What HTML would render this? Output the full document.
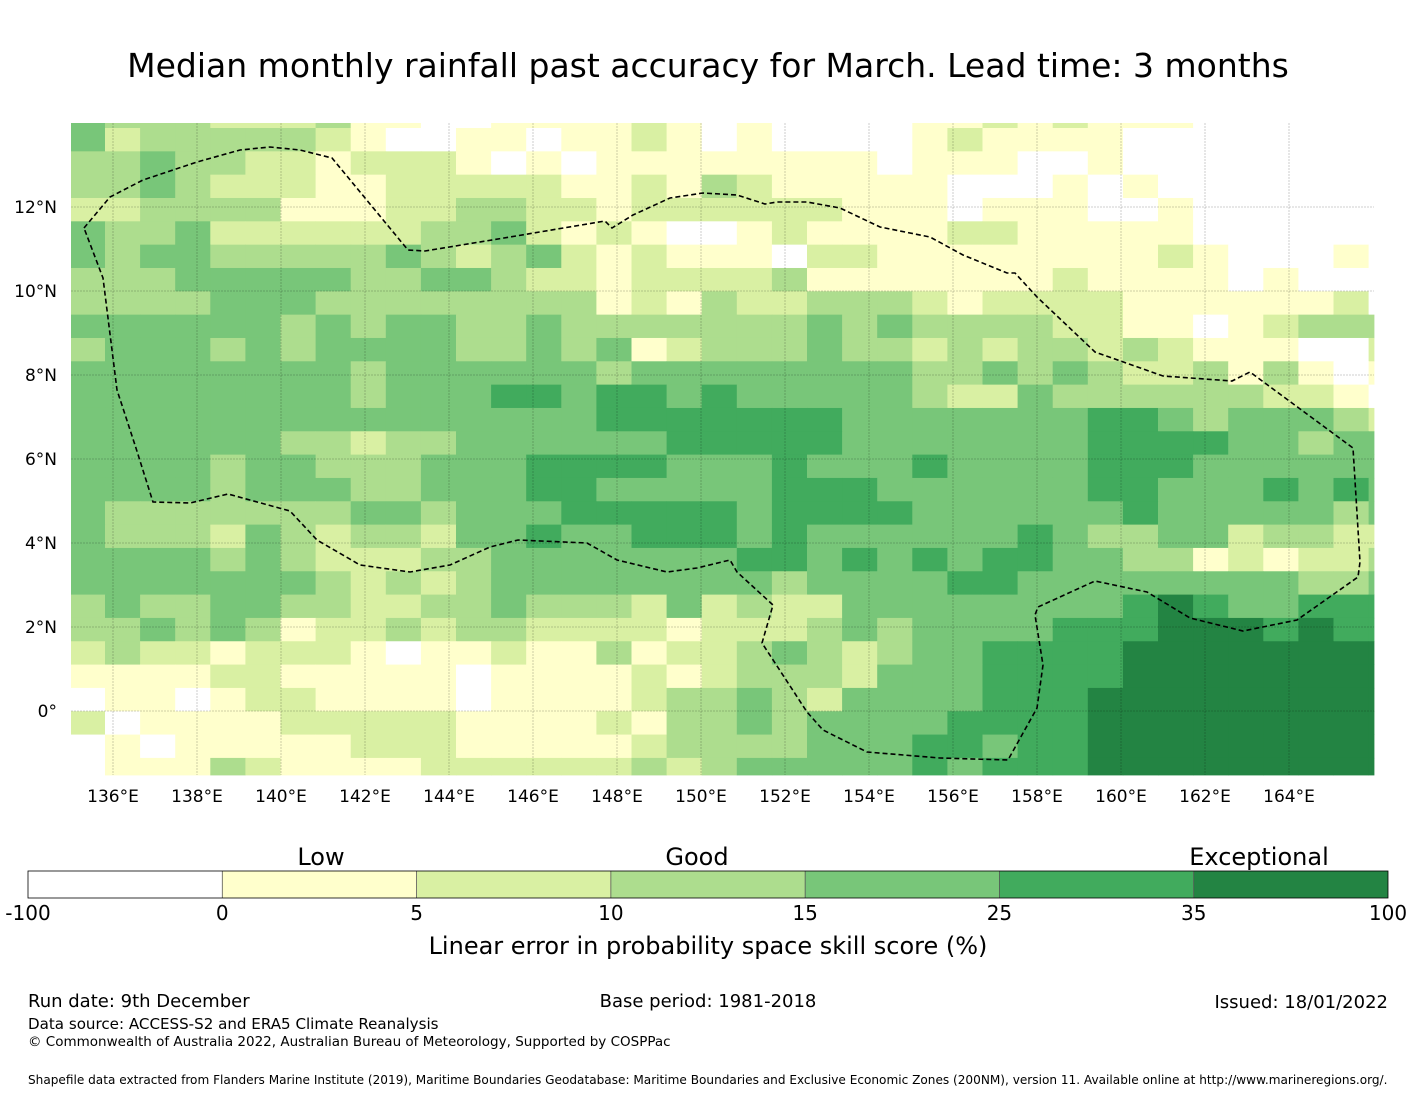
<!DOCTYPE html>
<html><head><meta charset="utf-8"><style>
html,body{margin:0;padding:0;background:#fff;}
svg{display:block;font-family:"DejaVu Sans","Liberation Sans",sans-serif;}
</style></head><body>
<svg id="chart" width="1416" height="1095" viewBox="0 0 1416 1095" xmlns="http://www.w3.org/2000/svg">
<rect width="1416" height="1095" fill="#fff"/>
<text x="708" y="77" font-size="33" text-anchor="middle" fill="#000">Median monthly rainfall past accuracy for March. Lead time: 3 months</text>
<g id="cells"></g>
<g id="grid"></g>
<path id="eez" fill="none" stroke="#000" stroke-width="1.6" stroke-dasharray="5,3"/>
<g id="xticks"></g>
<g id="yticks"></g>
<g id="cbar"></g>
<text x="321" y="865" font-size="24" text-anchor="middle">Low</text>
<text x="697" y="865" font-size="24" text-anchor="middle">Good</text>
<text x="1259" y="865" font-size="24" text-anchor="middle">Exceptional</text>
<text x="708" y="954" font-size="24" text-anchor="middle">Linear error in probability space skill score (%)</text>
<text x="28" y="1007" font-size="18">Run date: 9th December</text>
<text x="708" y="1007" font-size="18" text-anchor="middle">Base period: 1981-2018</text>
<text x="1388" y="1008" font-size="18" text-anchor="end">Issued: 18/01/2022</text>
<text x="28" y="1029" font-size="15.1">Data source: ACCESS-S2 and ERA5 Climate Reanalysis</text>
<text x="28" y="1046" font-size="13.5">© Commonwealth of Australia 2022, Australian Bureau of Meteorology, Supported by COSPPac</text>
<text x="28" y="1084" font-size="12.1">Shapefile data extracted from Flanders Marine Institute (2019), Maritime Boundaries Geodatabase: Maritime Boundaries and Exclusive Economic Zones (200NM), version 11. Available online at http://www.marineregions.org/.</text>
</svg>
<script>
// skill-score bin index per cell (0..6), rows north->south, columns west->east
const skillRows = [
"43332223110011112101000011212111000000",
"42333332100110112101000012111100000000",
"33433221222101011111111011100100000000",
"33432221122222112132111110001010000000",
"22333311122332212222221110111001000000",
"43342222223342121001211112211111000000",
"43443333343234212111022111111112100010",
"33344444334432212222311111112111101000",
"33334443333333312132233321222211111120",
"44444434344334333333343433332211012333",
"34443434444334341233343323233232111002",
"44444444344444434444444433434322313101",
"44444444344455455454444432243333332210",
"44444444444444455555554444444554344432",
"44444433233444444555554444444555544344",
"44443443334445555444544454444555444444",
"44443444334445544444555444444554445454",
"43333333443444555554555544444454444434",
"43332432332445445554544444454334423322",
"44443432223344444445545454554433121223",
"44444443232344444444344445544444444334",
"34334433223343332423224444444456544555",
"33434312232332222122234344445556665655",
"23221222101121131223432344555566666666",
"11112211111011112123332444555566666666",
"01101221111011112334324444555666666666",
"20111122222111121334344445555666666666",
"01011111222111112333344455455666666666",
"01113211112222223234444454555666666666"
];
const binLabels = ["-100","0","5","10","15","25","35","100"];
const binColors = ["#ffffff","#ffffcc","#d9f0a3","#addd8e","#78c679","#41ab5d","#238443"];
const lonTicks = [136,138,140,142,144,146,148,150,152,154,156,158,160,162,164];
const latTicks = [0,2,4,6,8,10,12];

const NS="http://www.w3.org/2000/svg";
function el(t,a,p){const e=document.createElementNS(NS,t);for(const k in a)e.setAttribute(k,a[k]);p.appendChild(e);return e;}
const lonToX = lon => 113 + (lon-136)*42;
const latToY = lat => 711 - lat*42;
const MAPL=71, MAPR=1374, MAPT=123, MAPB=775;
function colEdge(i){ if(i<=0) return MAPL; return Math.min(MAPR, 105 + 35.1*(i-1)); }
function rowEdge(j){ if(j<=0) return MAPT; return Math.min(MAPB, 128 + 23.33*(j-1)); }

const cells=document.getElementById('cells');
skillRows.forEach((row,j)=>{
  for(let i=0;i<row.length;i++){
    const b=+row[i];
    const x0=colEdge(i), x1=(i==row.length-1)?MAPR:colEdge(i+1);
    const y0=rowEdge(j), y1=(j==skillRows.length-1)?MAPB:rowEdge(j+1);
    const r=el('rect',{x:x0,y:y0,width:Math.max(0,x1-x0+0.4),height:Math.max(0,y1-y0+0.4),fill:binColors[b]},cells);
    
    
  }
});

const grid=document.getElementById('grid');
const xt=document.getElementById('xticks');
lonTicks.forEach(l=>{
  const x=lonToX(l);
  const g=el('line',{x1:x,x2:x,y1:MAPT,y2:MAPB,stroke:'#000','stroke-opacity':0.25,'stroke-width':0.8,'stroke-dasharray':'2,1'},grid);
  
  
  const t=el('text',{x:x,y:802,'font-size':17,'text-anchor':'middle'},xt);
  t.textContent=l+'°E';
  
  
});
const yt=document.getElementById('yticks');
latTicks.forEach(l=>{
  const y=latToY(l);
  const g=el('line',{x1:MAPL,x2:MAPR,y1:y,y2:y,stroke:'#000','stroke-opacity':0.25,'stroke-width':0.8,'stroke-dasharray':'2,1'},grid);
  
  
  const t=el('text',{x:57,y:y+6,'font-size':17,'text-anchor':'end'},yt);
  t.textContent=l==0?'0°':l+'°N';
  
  
});

const eezPts=[[84,228],[110,197],[143,180],[197,162],[240,150],[270,147],[300,150],[332,158],[408,250],[425,251],[510,237],[605,221],[612,228],[633,215],[670,198],[703,193],[737,195],[765,204],[777,202],[807,202],[840,208],[880,227],[930,237],[963,255],[1007,273],[1015,273],[1037,297],[1095,352],[1163,376],[1232,381],[1250,372],[1353,448],[1360,562],[1358,577],[1297,620],[1243,631],[1190,618],[1147,592],[1095,581],[1038,607],[1035,615],[1043,665],[1037,708],[1008,760],[940,758],[867,752],[823,730],[807,712],[762,643],[773,605],[737,572],[730,560],[697,568],[667,572],[617,560],[587,543],[518,540],[490,547],[450,565],[410,572],[360,565],[317,540],[290,511],[228,494],[190,503],[153,502],[135,445],[117,390],[103,278],[84,228]];
document.getElementById('eez').setAttribute('d','M'+eezPts.map(p=>p.join(',')).join(' L'));

const cb=document.getElementById('cbar');
const CBL=28,CBR=1388,CBT=871,CBB=898,segW=(CBR-CBL)/binColors.length;
binColors.forEach((c,i)=>{
  const r=el('rect',{x:CBL+i*segW,y:CBT,width:segW,height:CBB-CBT,fill:c},cb);
  
  
  if(i>0){el('line',{x1:CBL+i*segW,x2:CBL+i*segW,y1:CBT,y2:CBB,stroke:'#555','stroke-width':0.8},cb);}
});
el('rect',{x:CBL,y:CBT,width:CBR-CBL,height:CBB-CBT,fill:'none',stroke:'#000','stroke-width':0.8},cb);
binLabels.forEach((s,i)=>{
  const t=el('text',{x:CBL+i*segW,y:920,'font-size':20,'text-anchor':'middle'},cb);
  t.textContent=s;
  
  
});
</script>
</body></html>
